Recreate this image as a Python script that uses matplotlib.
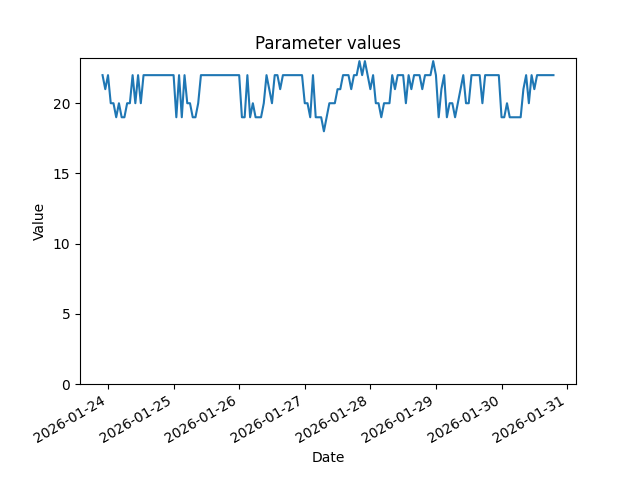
import matplotlib
matplotlib.use("Agg")
import matplotlib.pyplot as plt
import pandas as pd

# hourly readings, starting 2026-01-23 22:00
start_time = "2026-01-23 22:00"
values = [
    22, 21, 22, 20, 20, 19, 20, 19, 19, 20, 20, 22, 20, 22, 20, 22,
    22, 22, 22, 22, 22, 22, 22, 22, 22, 22, 22,
    19, 22, 19, 22, 20, 20, 19, 19, 20,
    22, 22, 22, 22, 22, 22, 22, 22, 22, 22, 22, 22, 22, 22, 22,
    19, 19, 22, 19, 20, 19, 19, 19, 20, 22, 21, 20, 22, 22, 21,
    22, 22, 22, 22, 22, 22, 22, 22,
    20, 20, 19, 22, 19, 19, 19, 18, 19, 20, 20, 20, 21, 21, 22, 22,
    22, 21, 22, 22, 23, 22, 23, 22, 21, 22, 20, 20, 19, 20, 20, 20,
    22, 21, 22, 22, 22, 20, 22, 21, 22, 22, 22, 21, 22, 22, 22, 23,
    22, 19, 21, 22, 19, 20, 20, 19, 20, 21, 22, 20, 20, 22, 22, 22,
    22, 20, 22, 22, 22, 22, 22, 22,
    19, 19, 20, 19, 19, 19, 19, 19, 21, 22, 20, 22, 21, 22,
    22, 22, 22, 22, 22, 22,
]
dates = pd.date_range(start_time, periods=len(values), freq="h")

fig, ax = plt.subplots(figsize=(6.4, 4.8), dpi=100)
ax.plot(dates, values)
ax.set_ylim(bottom=0)
ax.set_title("Parameter values")
ax.set_xlabel("Date")
ax.set_ylabel("Value")
fig.autofmt_xdate()

fig.savefig("out.png")
